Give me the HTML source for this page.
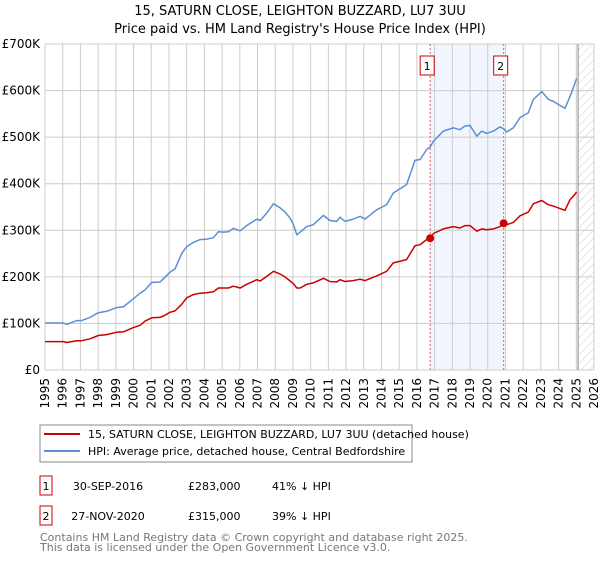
<!DOCTYPE html>
<html><head><meta charset="utf-8"><style>
body{margin:0;background:#fff;}
svg text{font-family:"DejaVu Sans","Liberation Sans",sans-serif;}
</style></head><body>
<svg width="600" height="560" viewBox="0 0 600 560" xmlns="http://www.w3.org/2000/svg">
<defs><pattern id="hatch" width="6" height="6" patternUnits="userSpaceOnUse" patternTransform="rotate(45)"><line x1="0" y1="0" x2="0" y2="6" stroke="#ccc" stroke-width="1"/></pattern></defs>
<text x="300" y="15" text-anchor="middle" font-size="13">15, SATURN CLOSE, LEIGHTON BUZZARD, LU7 3UU</text>
<text x="300" y="33" text-anchor="middle" font-size="13">Price paid vs. HM Land Registry's House Price Index (HPI)</text>
<g id="plot"></g>
<g>
<rect x="40" y="425" width="372" height="37" fill="#fff" stroke="#888"/>
<line x1="44" y1="434" x2="80" y2="434" stroke="#cc0000" stroke-width="2"/>
<text x="88" y="438" font-size="11">15, SATURN CLOSE, LEIGHTON BUZZARD, LU7 3UU (detached house)</text>
<line x1="44" y1="451" x2="80" y2="451" stroke="#5b8fd4" stroke-width="2"/>
<text x="88" y="455" font-size="11">HPI: Average price, detached house, Central Bedfordshire</text>
</g>
<g font-size="11">
<rect x="40" y="476" width="12" height="19" fill="#fff" stroke="#cc0000"/>
<text x="46" y="490" text-anchor="middle">1</text>
<text x="108" y="490" text-anchor="middle">30-SEP-2016</text>
<text x="188" y="490">£283,000</text>
<text x="272" y="490">41% ↓ HPI</text>
<rect x="40" y="506" width="12" height="19" fill="#fff" stroke="#cc0000"/>
<text x="46" y="520" text-anchor="middle">2</text>
<text x="108" y="520" text-anchor="middle">27-NOV-2020</text>
<text x="188" y="520">£315,000</text>
<text x="272" y="520">39% ↓ HPI</text>
</g>
<text x="40" y="541" font-size="11" fill="#777">Contains HM Land Registry data © Crown copyright and database right 2025.</text>
<text x="40" y="551" font-size="11" fill="#777">This data is licensed under the Open Government Licence v3.0.</text>
</svg>
<script>
const years=[1995.00,1996.04,1996.22,1996.79,1997.07,1997.54,1998.01,1998.48,1999.05,1999.43,1999.99,2000.37,2000.65,2001.03,2001.50,2001.69,2002.06,2002.34,2002.72,2003.00,2003.38,2003.76,2004.13,2004.51,2004.79,2005.08,2005.36,2005.64,2006.02,2006.39,2006.96,2007.15,2007.52,2007.90,2008.28,2008.56,2008.84,2009.03,2009.22,
2009.41,2009.78,2010.15,2010.72,2011.09,2011.47,2011.66,2011.94,2012.41,2012.79,2013.07,2013.73,2014.29,2014.67,2015.42,2015.89,2016.18,2016.55,2016.75,2016.93,2017.49,2018.06,2018.43,2018.72,2019.00,2019.38,2019.66,2019.94,2020.32,2020.69,2020.90,2021.07,2021.45,2021.82,2022.29,2022.58,2023.05,2023.42,2023.70,2023.99,2024.36,2024.65,2024.83,2025.02];
const hpiValues=[101,101,98,106,106,113,123,126,134,136,153,165,172,188,189,196,210,217,250,265,274,280,281,284,297,296,297,304,299,310,324,321,337,357,348,339,326,312,290,
296,308,312,332,321,319,328,319,324,330,324,344,355,380,398,450,452,473,479,491,513,520,516,524,525,502,513,508,513,522,518,511,520,542,552,581,598,581,577,570,562,588,606,626];
const paidValues=[61,61,59,63,63,67,74,76,81,82,91,96,105,112,113,116,124,127,141,155,162,165,166,168,176,176,176,180,176,184,194,191,201,212,206,200,191,185,176,
176,184,187,197,190,189,194,190,192,195,192,202,212,230,237,267,269,280,283,293,303,308,305,310,310,298,303,301,303,308,315,312,317,331,339,357,364,355,352,348,343,366,373,382];
const sales=[{year:2016.75,value:283},{year:2020.90,value:315}];
const yTicks=[0,100,200,300,400,500,600,700];
const yTickLabels=["£0","£100K","£200K","£300K","£400K","£500K","£600K","£700K"];
const xTicks=[1995,1996,1997,1998,1999,2000,2001,2002,2003,2004,2005,2006,2007,2008,2009,2010,2011,2012,2013,2014,2015,2016,2017,2018,2019,2020,2021,2022,2023,2024,2025,2026];

const X0=45,X1=594,Y0=370,Y1=44;
const xs=y=>X0+(y-1995)/(2026-1995)*(X1-X0);
const ys=v=>Y0-v/700*(Y0-Y1);
const NS="http://www.w3.org/2000/svg";
const g=document.getElementById('plot');
function mk(t,a,p){const e=document.createElementNS(NS,t);for(const k in a)e.setAttribute(k,a[k]);(p||g).appendChild(e);return e;}
let sh=mk('rect',{x:xs(sales[0].year),y:Y1,width:xs(sales[1].year)-xs(sales[0].year),height:Y0-Y1,fill:'#eef3fc',opacity:0.8});


let ht=mk('rect',{x:xs(2025.1),y:Y1,width:X1-xs(2025.1),height:Y0-Y1,fill:'url(#hatch)'});


xTicks.forEach(t=>{
 let l=mk('line',{x1:xs(t),x2:xs(t),y1:Y1,y2:Y0,stroke:'#ccc'});
 
 
 let tx=mk('text',{x:0,y:0,'font-size':12,'text-anchor':'end',transform:`translate(${xs(t)+4},${Y0+8}) rotate(-90)`});
 tx.textContent=t;
 
 
});
yTicks.forEach((t,i)=>{
 let l=mk('line',{x1:X0,x2:X1,y1:ys(t),y2:ys(t),stroke:'#ccc'});
 
 
 let tx=mk('text',{x:40,y:ys(t)+4,'font-size':12,'text-anchor':'end'});
 tx.textContent=yTickLabels[i];
 
 
});
let vl=mk('line',{x1:xs(2025.1),x2:xs(2025.1),y1:Y1,y2:Y0,stroke:'#888','stroke-width':1});


sales.forEach((s,i)=>{
 let l=mk('line',{x1:xs(s.year),x2:xs(s.year),y1:Y1,y2:Y0,stroke:'#e06060','stroke-dasharray':'2,2'});
 
 
 let r=mk('rect',{x:xs(s.year)-10,y:56,width:14,height:19,fill:'#fff',stroke:'#cc0000'});
 
 
 let t=mk('text',{x:xs(s.year)-3,y:70,'font-size':11,'text-anchor':'middle'});
 t.textContent=String(i+1);
 
 
});
function line(vals,color,name){
 const d=vals.map((v,i)=>(i?'L':'M')+xs(years[i]).toFixed(1)+','+ys(v).toFixed(1)).join('');
 let p=mk('path',{d:d,fill:'none',stroke:color,'stroke-width':1.5,'stroke-linejoin':'round'});
 
 
}
line(hpiValues,'#5b8fd4','hpi-line');
line(paidValues,'#cc0000','property-price-line');
sales.forEach(s=>{
 let c=mk('circle',{cx:xs(s.year),cy:ys(s.value),r:4,fill:'#cc0000'});
 
 
});
</script>
</body></html>
